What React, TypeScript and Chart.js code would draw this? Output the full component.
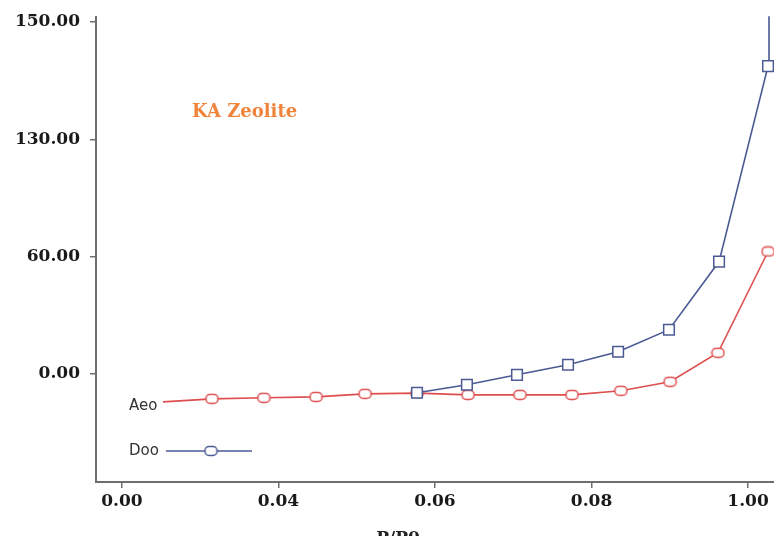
import React, { useEffect, useRef } from "react";
import { Chart, registerables } from "chart.js";

Chart.register(...registerables);

// Axis ticks (evenly spaced tick positions with the printed labels)
const xTickPos = [0, 1, 2, 3, 4];
const xTickLabels = ["0.00", "0.04", "0.06", "0.08", "1.00"];
const yTickPos = [0, 1, 2, 3];
const yTickLabels = ["0.00", "60.00", "130.00", "150.00"];

// Series "Aeo" (red, rounded markers) – positions in tick units
const aeoX = [0.262, 0.575, 0.907, 1.24, 1.553, 1.885, 2.211, 2.543, 2.875, 3.188, 3.502, 3.808, 4.128];
const aeoY = [-0.24, -0.214, -0.205, -0.197, -0.171, -0.165, -0.18, -0.18, -0.18, -0.145, -0.068, 0.179, 1.043];

// Series "Doo" (blue, square markers)
const dooX = [1.885, 2.204, 2.524, 2.85, 3.17, 3.495, 3.815, 4.128, 4.134];
const dooY = [-0.162, -0.094, -0.009, 0.077, 0.188, 0.376, 0.957, 2.624, 3.05];

const legendA = "Aeo";
const legendD = "Doo";
const annotation = "KA Zeolite";
const xTitle = "P/P0";

const RED = "#DE4E4E";
const BLUE = "#4B5A94";
const AXIS = "#6E6E6E";

function makeRounded(color: string) {
  const c = document.createElement("canvas");
  c.width = 15;
  c.height = 12;
  const g = c.getContext("2d")!;
  g.lineWidth = 1.5;
  g.fillStyle = "#ffffff";
  g.strokeStyle = color;
  g.beginPath();
  (g as any).roundRect(1.5, 1.5, 12, 9, 4);
  g.fill();
  g.stroke();
  return c;
}

export default function App() {
  const ref = useRef<HTMLCanvasElement | null>(null);

  useEffect(() => {
    const canvas = ref.current!;
    const redMarker = makeRounded(RED);
    const blueMarker = makeRounded(BLUE);

    const annot = {
      id: "annot",
      afterDatasetsDraw(chart: any) {
        const { ctx } = chart;
        ctx.save();
        ctx.textBaseline = "middle";
        ctx.textAlign = "left";
        ctx.font = 'bold 18px "DejaVu Serif"';
        ctx.fillStyle = "#F0843C";
        ctx.fillText(annotation, 192, 112);

        ctx.font = '15px "DejaVu Sans"';
        ctx.fillStyle = "#333333";
        ctx.fillText(legendA, 129, 406);
        ctx.fillText(legendD, 129, 451);

        ctx.strokeStyle = BLUE;
        ctx.lineWidth = 1.6;
        ctx.beginPath();
        ctx.moveTo(166, 451);
        ctx.lineTo(252, 451);
        ctx.stroke();
        ctx.drawImage(blueMarker, 211 - 7.5, 451 - 6);

        ctx.font = 'bold 17px "DejaVu Serif"';
        ctx.fillStyle = "#222222";
        ctx.textAlign = "center";
        ctx.textBaseline = "top";
        ctx.fillText(xTitle, 398, 530);
        ctx.restore();
      },
    };

    const chart = new Chart(canvas, {
      type: "line",
      data: {
        datasets: [
          {
            label: legendD,
            data: dooX.map((x, i) => ({ x, y: dooY[i] })),
            borderColor: BLUE,
            borderWidth: 1.6,
            pointStyle: "rect",
            pointRadius: dooX.map((_, i) => (i === dooX.length - 1 ? 0 : 7.5)),
            pointBackgroundColor: "#ffffff",
            pointBorderColor: BLUE,
            pointBorderWidth: 1.5,
            clip: false as any,
            order: 0,
          },
          {
            label: legendA,
            data: aeoX.map((x, i) => ({ x, y: aeoY[i] })),
            borderColor: RED,
            borderWidth: 1.6,
            pointStyle: redMarker as any,
            pointRadius: aeoX.map((_, i) => (i === 0 ? 0 : 6)),
            clip: false as any,
            order: 1,
          },
        ],
      },
      options: {
        animation: false,
        responsive: false,
        devicePixelRatio: 1,
        layout: { autoPadding: false, padding: { top: 17, left: 0, right: 0, bottom: 0 } },
        plugins: {
          legend: { display: false },
          tooltip: { enabled: false },
          title: { display: false },
        },
        scales: {
          x: {
            type: "linear",
            min: -0.166,
            max: 4.166,
            afterBuildTicks: (s: any) => {
              s.ticks = xTickPos.map((v) => ({ value: v }));
            },
            afterFit: (s: any) => {
              s.height = 54;
              s.paddingLeft = 0;
              s.paddingRight = 0;
            },
            grid: {
              drawOnChartArea: false,
              drawTicks: true,
              tickLength: 6,
              color: AXIS,
              lineWidth: 1.5,
            },
            border: { display: true, color: AXIS, width: 2 },
            ticks: {
              autoSkip: false,
              maxRotation: 0,
              padding: 3,
              color: "#1a1a1a",
              font: { family: "DejaVu Serif", weight: "bold", size: 17 },
              callback: (v: any) => xTickLabels[xTickPos.indexOf(Number(v))],
            },
          },
          y: {
            type: "linear",
            min: -0.923,
            max: 3.043,
            afterBuildTicks: (s: any) => {
              s.ticks = yTickPos.map((v) => ({ value: v }));
            },
            afterFit: (s: any) => {
              s.width = 96;
              s.paddingTop = 0;
              s.paddingBottom = 0;
            },
            grid: {
              drawOnChartArea: false,
              drawTicks: true,
              tickLength: 6,
              color: AXIS,
              lineWidth: 1.5,
            },
            border: { display: true, color: AXIS, width: 2 },
            ticks: {
              padding: 10,
              color: "#1a1a1a",
              font: { family: "DejaVu Serif", weight: "bold", size: 17 },
              callback: (v: any) => yTickLabels[yTickPos.indexOf(Number(v))],
            },
          },
        },
      },
      plugins: [annot],
    } as any);

    return () => chart.destroy();
  }, []);

  return (
    <div style={{ position: "absolute", left: 0, top: 0, width: 774, height: 536, overflow: "hidden", background: "#fff" }}>
      <canvas ref={ref} width={774} height={536} style={{ display: "block" }} />
    </div>
  );
}
